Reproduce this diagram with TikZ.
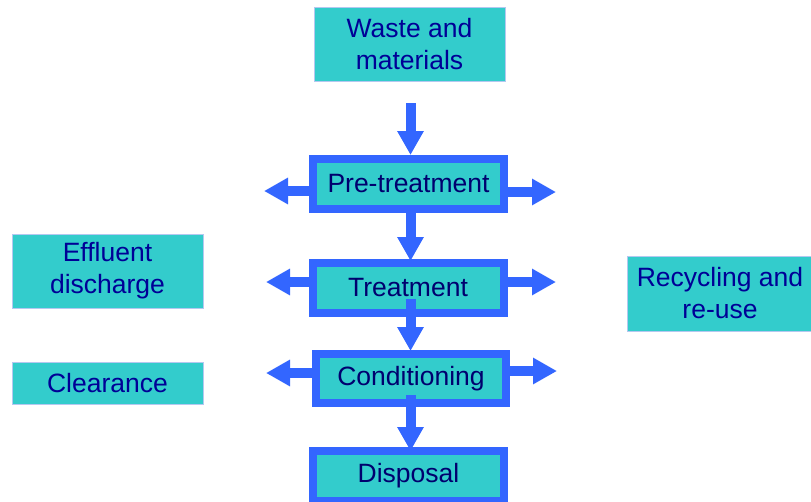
\documentclass[tikz,border=0pt]{standalone}
\usepackage{fontspec}
\setmainfont{Liberation Sans}
\usetikzlibrary{arrows.meta}

\definecolor{frameblue}{RGB}{51,102,255}
\definecolor{boxfill}{RGB}{51,204,204}
\definecolor{edgelight}{RGB}{180,200,240}
\definecolor{textdark}{RGB}{0,0,110}
\definecolor{textside}{RGB}{0,0,150}

\tikzset{
  plainbox/.style={draw=edgelight, line width=0.8pt, fill=boxfill,
    inner sep=0pt, outer sep=0pt, align=center, text=textside,
    font=\fontsize{26.5}{32}\selectfont},
  framebox/.style={draw=frameblue, line width=8pt, fill=boxfill,
    inner sep=0pt, minimum width=191pt, minimum height=50pt,
    align=center, text=textdark, font=\fontsize{26.5}{32}\selectfont},
  blockarrow/.style={draw=frameblue, line width=10pt,
    -{Triangle[length=24pt,width=25pt]}},
}

\begin{document}
\begin{tikzpicture}[x=1pt, y=-1pt]
  \useasboundingbox (0,0) rectangle (811,501);

  % source and side boxes
  \node[plainbox, minimum width=191pt, minimum height=74pt] (waste) at (409.5,44) {Waste and\\materials};
  \node[plainbox, minimum width=191pt, minimum height=74pt] (effluent) at (107.5,271) {Effluent\\discharge};
  \node[plainbox, minimum width=191pt, minimum height=42pt] (clearance) at (107.5,383) {Clearance};
  \node[plainbox, minimum width=186pt, minimum height=75pt] (recycle) at (720,293.5) {Recycling and\\re-use};

  % process chain
  \node[framebox] (pre) at (408.5,184) {Pre-treatment};
  \node[framebox] (treat) at (408,288) {Treatment};
  \node[framebox, minimum width=190pt, minimum height=49pt] (cond) at (411,378.5) {Conditioning};
  \node[framebox] (disp) at (408.5,476) {Disposal};

  % free ends of the arrows
  \coordinate (inTop) at (410.5,103);
  \coordinate (treatOut) at (410.5,299);
  \coordinate (condOut) at (410.5,395);
  \coordinate (preL) at (264,191);
  \coordinate (preR) at (556,192);
  \coordinate (treatL) at (266,282);
  \coordinate (treatR) at (556,282);
  \coordinate (condL) at (266,373);
  \coordinate (condR) at (557,371);

  % downward flow
  \draw[blockarrow] (inTop) -- (inTop |- pre.north);
  \draw[blockarrow] (inTop |- pre.south) -- ([yshift=-2pt]inTop |- treat.north);
  \draw[blockarrow] (treatOut) -- ([yshift=-1pt]treatOut |- cond.north);
  \draw[blockarrow] (condOut) -- ([yshift=-4pt]condOut |- disp.north);

  % side outputs
  \draw[blockarrow] (pre.west |- preL) -- (preL);
  \draw[blockarrow] (pre.east |- preR) -- (preR);
  \draw[blockarrow] (treat.west |- treatL) -- (treatL);
  \draw[blockarrow] (treat.east |- treatR) -- (treatR);
  \draw[blockarrow] (cond.west |- condL) -- (condL);
  \draw[blockarrow] (cond.east |- condR) -- (condR);
\end{tikzpicture}
\end{document}
